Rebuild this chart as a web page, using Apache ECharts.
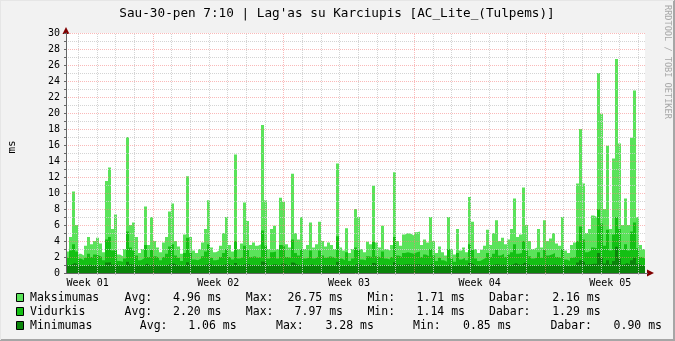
<!DOCTYPE html>
<html><head><meta charset="utf-8">
<script src="https://cdn.jsdelivr.net/npm/echarts@6/dist/echarts.min.js"></script>
<style>html,body{margin:0;padding:0;background:#f2f2f2}#c{width:675px;height:341px}</style>
</head><body><div id="c"></div><script>
const titleText = "Sau-30-pen 7:10 | Lag'as su Karciupis [AC_Lite_(Tulpems)]";
const yAxisName = "ms";
const watermark = "RRDTOOL / TOBI OETIKER";
const weekLabels = ["Week 01", "Week 02", "Week 03", "Week 04", "Week 05"];
const yTickStep = 2;
const seriesNames = ["Maksimumas", "Vidurkis", "Minimumas"];
const statAvg = ["4.96 ms", "2.20 ms", "1.06 ms"];
const statMax = ["26.75 ms", "7.97 ms", "3.28 ms"];
const statMin = ["1.71 ms", "1.14 ms", "0.85 ms"];
const statNow = ["2.16 ms", "1.29 ms", "0.90 ms"];

// time span of the graph in days, and offset of first midnight after start
const spanDays = 31.02;
const firstMidnight = 0.66;
const firstWeekStart = 4.66;

const maxVals = [
 2.7, 4.5, 10.2, 6.0, 2.4, 2.2, 3.4, 4.5, 3.6, 4.0,
 4.4, 3.7, 2.6, 11.5, 13.2, 5.5, 7.3, 2.3, 2.1, 3.0,
 17.0, 6.0, 6.3, 4.5, 2.5, 3.0, 8.3, 3.5, 7.0, 4.0,
 3.2, 2.6, 3.8, 4.5, 7.7, 8.7, 4.0, 3.3, 2.4, 4.8,
 12.1, 4.5, 2.8, 2.5, 3.0, 3.8, 5.5, 9.1, 3.2, 2.6,
 2.8, 3.4, 5.0, 7.0, 3.5, 2.7, 14.8, 3.0, 3.7, 8.8,
 6.5, 3.5, 3.8, 3.4, 3.6, 18.5, 9.1, 3.0, 5.5, 5.9,
 3.0, 9.4, 8.9, 3.6, 3.2, 12.4, 5.0, 4.2, 7.0, 3.0,
 3.5, 6.3, 3.2, 3.6, 6.4, 4.0, 3.3, 3.8, 3.5, 3.0,
 13.7, 3.2, 2.8, 5.6, 2.5, 3.0, 8.0, 7.0, 3.0, 2.6,
 3.9, 3.6, 10.9, 3.8, 3.2, 5.9, 3.0, 2.8, 3.5, 12.6,
 4.0, 3.4, 4.8, 5.0, 4.9, 4.7, 5.1, 5.2, 3.5, 4.2,
 3.8, 7.0, 4.0, 2.5, 3.3, 2.6, 2.2, 7.0, 3.0, 2.3,
 5.5, 2.8, 3.2, 2.6, 9.5, 6.4, 3.0, 2.5, 2.9, 3.4,
 5.4, 3.5, 5.0, 6.6, 4.0, 4.4, 3.6, 4.2, 5.5, 9.3,
 4.5, 4.8, 10.7, 6.0, 4.0, 3.0, 3.2, 5.5, 3.2, 6.6,
 4.0, 4.3, 5.0, 3.7, 3.4, 7.0, 2.8, 2.5, 3.5, 3.8,
 11.2, 18.0, 11.2, 5.0, 5.5, 7.2, 7.0, 25.0, 19.9, 8.0,
 15.9, 5.5, 14.3, 26.75, 16.2, 6.0, 9.3, 6.0, 16.9, 22.8,
 7.0, 3.5, 3.0
];
const avgVals = [
 1.9, 2.8, 3.6, 2.7, 1.8, 1.6, 1.9, 2.4, 2.0, 2.3,
 2.2, 2.0, 1.6, 4.2, 4.5, 2.8, 3.0, 1.5, 1.4, 1.8,
 5.2, 3.2, 2.8, 2.2, 1.6, 1.8, 3.5, 2.0, 2.9, 2.1,
 1.9, 1.6, 2.0, 2.4, 3.3, 3.6, 2.2, 1.9, 1.5, 2.5,
 4.4, 2.5, 1.7, 1.6, 1.8, 2.1, 2.7, 3.6, 1.9, 1.6,
 1.7, 2.0, 2.5, 3.0, 2.0, 1.7, 4.0, 1.8, 2.0, 3.4,
 2.9, 2.0, 2.1, 1.9, 2.0, 5.3, 3.4, 1.8, 2.6, 2.7,
 1.8, 3.5, 3.3, 2.0, 1.9, 4.2, 2.5, 2.2, 3.0, 1.8,
 1.9, 2.8, 1.8, 2.0, 2.8, 2.2, 1.9, 2.1, 2.0, 1.8,
 4.6, 1.8, 1.6, 2.6, 1.5, 1.8, 3.2, 2.9, 1.7, 1.6,
 2.1, 2.0, 3.9, 2.1, 1.9, 2.7, 1.8, 1.7, 2.0, 4.5,
 2.2, 2.0, 2.5, 2.6, 2.5, 2.4, 2.6, 2.7, 2.0, 2.3,
 2.1, 3.0, 2.2, 1.5, 1.9, 1.6, 1.4, 3.0, 1.8, 1.4,
 2.5, 1.7, 1.9, 1.6, 3.6, 2.9, 1.8, 1.5, 1.7, 1.9,
 2.5, 2.0, 2.4, 2.9, 2.2, 2.4, 2.0, 2.3, 2.6, 3.6,
 2.4, 2.5, 4.0, 2.8, 2.1, 1.8, 1.9, 2.6, 1.9, 2.9,
 2.2, 2.3, 2.5, 2.0, 1.9, 3.0, 1.7, 1.5, 1.9, 2.0,
 4.0, 5.8, 4.2, 2.6, 2.8, 3.2, 3.1, 7.97, 6.2, 3.4,
 5.4, 2.8, 4.8, 7.0, 5.5, 2.9, 3.6, 2.8, 5.2, 6.3,
 3.1, 2.0, 1.8
];
const minVals = [
 0.95, 1.10, 1.25, 1.05, 0.90, 0.88, 0.95, 1.05, 0.95, 1.00,
 1.00, 0.95, 0.90, 1.30, 1.35, 1.05, 1.10, 0.90, 0.88, 0.95,
 1.40, 1.10, 1.05, 1.00, 0.90, 0.95, 1.20, 0.95, 1.10, 1.00,
 0.95, 0.90, 0.95, 1.00, 1.15, 1.20, 1.00, 0.95, 0.88, 1.00,
 1.35, 1.05, 0.92, 0.90, 0.95, 1.00, 1.05, 1.20, 0.95, 0.90,
 0.92, 0.97, 1.05, 1.15, 1.00, 0.90, 1.25, 0.95, 1.00, 1.15,
 1.10, 0.98, 1.00, 0.95, 1.00, 1.45, 1.20, 0.92, 1.05, 1.10,
 0.95, 1.20, 1.15, 1.00, 0.95, 1.30, 1.05, 1.00, 1.10, 0.92,
 0.95, 1.10, 0.92, 0.97, 1.10, 1.00, 0.95, 1.00, 0.98, 0.92,
 1.40, 0.93, 0.90, 1.05, 0.88, 0.92, 1.15, 1.10, 0.90, 0.88,
 1.00, 0.98, 1.25, 1.00, 0.95, 1.05, 0.92, 0.90, 0.97, 1.35,
 1.05, 1.00, 1.05, 1.10, 1.05, 1.05, 1.10, 1.10, 0.98, 1.05,
 1.00, 1.15, 1.00, 0.88, 0.95, 0.88, 0.86, 1.10, 0.92, 0.86,
 1.00, 0.90, 0.95, 0.88, 1.25, 1.10, 0.92, 0.87, 0.90, 0.95,
 1.05, 0.97, 1.05, 1.10, 1.00, 1.05, 0.97, 1.00, 1.05, 1.25,
 1.05, 1.05, 1.30, 1.10, 1.00, 0.92, 0.95, 1.05, 0.95, 1.10,
 1.00, 1.00, 1.05, 0.97, 0.95, 1.10, 0.90, 0.88, 0.95, 0.97,
 1.30, 1.60, 1.35, 1.05, 1.10, 1.15, 1.15, 2.50, 1.90, 1.20,
 1.60, 1.10, 1.50, 3.28, 1.80, 1.05, 1.25, 1.05, 1.60, 1.90,
 1.15, 0.97, 0.92
];

const colors = ["#5ae35a", "#14c014", "#0a850a"];
const MONO = "DejaVu Sans Mono";

const N = maxVals.length;
const dt = spanDays / N;
function toSeries(arr) {
  const d = arr.map((v, i) => [i * dt, v]);
  d.push([N * dt, arr[arr.length - 1]]);
  return d;
}
const dayLines = [];
for (let d = firstMidnight; d < spanDays; d += 1) dayLines.push(+d.toFixed(4));
const weekStarts = [];
for (let w = firstWeekStart; w < spanDays; w += 7) weekStarts.push(+w.toFixed(4));
const weekLabelPos = weekLabels.map((_, k) => +(firstWeekStart - 7 + 3.5 + 7 * k).toFixed(4));

const grid = { left: 66, top: 33, width: 579, height: 240 };
const gridMajor = "rgba(245,128,128,0.55)";
const gridMinor = "rgba(204,204,204,0.85)";

const rowY = [298, 312, 326];
const legendCols = [
  { avg: 124.6, avgR: 221.5, max: 245.8, maxR: 343, min: 367.4, minR: 465, now: 489, nowR: 600.6 },
  { avg: 124.6, avgR: 221.5, max: 245.8, maxR: 343, min: 367.4, minR: 465, now: 489, nowR: 600.6 },
  { avg: 139.8, avgR: 236.7, max: 276, maxR: 373.9, min: 413, minR: 511.5, now: 550.4, nowR: 662 }
];
const graphics = [];
function txt(x, y, s, align, extra) {
  graphics.push(Object.assign({ type: "text", x: x, y: y, silent: true,
    style: { text: s, fill: "#000", font: "11.5px '" + MONO + "'", textAlign: align || "left", textVerticalAlign: "middle" } }, extra || {}));
}
seriesNames.forEach((name, r) => {
  const y = rowY[r], c = legendCols[r];
  graphics.push({ type: "rect", shape: { x: 16.5, y: y - 4.5, width: 7, height: 8 }, style: { fill: colors[r], stroke: "#000", lineWidth: 1 }, silent: true });
  txt(30, y, name);
  txt(c.avg, y, "Avg:");
  txt(c.avgR, y, statAvg[r], "right");
  txt(c.max, y, "Max:");
  txt(c.maxR, y, statMax[r], "right");
  txt(c.min, y, "Min:");
  txt(c.minR, y, statMin[r], "right");
  txt(c.now, y, "Dabar:");
  txt(c.nowR, y, statNow[r], "right");
});
// title
graphics.push({ type: "text", x: 337, y: 14, silent: true, style: { text: titleText, fill: "#000", font: "12.7px '" + MONO + "'", textAlign: "center", textVerticalAlign: "middle" } });
// y name
graphics.push({ type: "text", x: 12, y: 147, rotation: Math.PI / 2, silent: true, style: { text: yAxisName, fill: "#000", font: "11px '" + MONO + "'", textAlign: "center", textVerticalAlign: "middle" } });
// watermark
graphics.push({ type: "text", x: 667, y: 5, rotation: -Math.PI / 2, silent: true, style: { text: watermark, fill: "#a8a8a8", font: "8.6px '" + MONO + "'", textAlign: "left", textVerticalAlign: "middle" } });
// arrows
graphics.push({ type: "polygon", shape: { points: [[66, 27], [62.5, 34], [69.5, 34]] }, style: { fill: "#800000" }, silent: true });
graphics.push({ type: "polygon", shape: { points: [[654, 273], [647, 269.5], [647, 276.5]] }, style: { fill: "#800000" }, silent: true });
graphics.push({ type: "line", shape: { x1: 645, y1: 273.5, x2: 648, y2: 273.5 }, style: { stroke: "#666", lineWidth: 1 }, silent: true });
// frame shading
graphics.push({ type: "line", shape: { x1: 0, y1: 340, x2: 675, y2: 340 }, style: { stroke: "#a6a6a6", lineWidth: 2 }, silent: true });
graphics.push({ type: "line", shape: { x1: 674, y1: 0, x2: 674, y2: 341 }, style: { stroke: "#a6a6a6", lineWidth: 2 }, silent: true });
graphics.push({ type: "line", shape: { x1: 0, y1: 0.5, x2: 674, y2: 0.5 }, style: { stroke: "#e6e6e6", lineWidth: 1 }, silent: true });
graphics.push({ type: "line", shape: { x1: 0.5, y1: 0, x2: 0.5, y2: 340 }, style: { stroke: "#e6e6e6", lineWidth: 1 }, silent: true });

const areaSeries = [maxVals, avgVals, minVals].map((arr, k) => ({
  name: seriesNames[k], type: "line", step: "end", data: toSeries(arr),
  symbol: "none", lineStyle: { width: 0 }, areaStyle: { color: colors[k], opacity: 1 },
  itemStyle: { color: colors[k] }, z: 2, animation: false, silent: true
}));
const vLines = dayLines.map(d => {
  const isWeek = weekStarts.some(w => Math.abs(w - d) < 1e-3);
  return { xAxis: d, lineStyle: { color: isWeek ? gridMajor : gridMinor, type: [1, 1], width: 1 } };
});
areaSeries.push({
  type: "line", data: [], z: 6, silent: true, animation: false,
  markLine: { silent: true, animation: false, symbol: ["none", "none"], label: { show: false }, data: vLines }
});

const chart = echarts.init(document.getElementById("c"), null, { renderer: "canvas" });
chart.setOption({
  backgroundColor: "#f2f2f2",
  animation: false,
  grid: Object.assign({ show: true, backgroundColor: "#ffffff", borderWidth: 0 }, grid),
  xAxis: {
    type: "value", min: 0, max: spanDays, z: 7,
    splitLine: { show: false },
    axisLine: { show: true, lineStyle: { color: "#666", width: 1 } },
    axisTick: { show: true, customValues: dayLines, length: 2, lineStyle: { color: "#bbbbbb" } },
    axisLabel: {
      show: true, customValues: weekLabelPos, margin: 5,
      color: "#000", fontFamily: MONO, fontSize: 10,
      formatter: v => { const i = weekLabelPos.findIndex(p => Math.abs(p - v) < 1e-3); return i >= 0 ? weekLabels[i] : ""; }
    }
  },
  yAxis: {
    type: "value", min: 0, max: 30, interval: 1, z: 7,
    axisLine: { show: true, lineStyle: { color: "#666", width: 1 } },
    axisTick: { show: true, length: 2, lineStyle: { color: "#666" } },
    splitLine: { show: true, lineStyle: { color: [gridMajor, gridMinor], type: [1, 1], width: 1 } },
    axisLabel: { color: "#000", fontFamily: MONO, fontSize: 10, margin: 6,
      formatter: v => (v % yTickStep === 0 ? String(v) : "") }
  },
  series: areaSeries,
  graphic: graphics
});
</script></body></html>
